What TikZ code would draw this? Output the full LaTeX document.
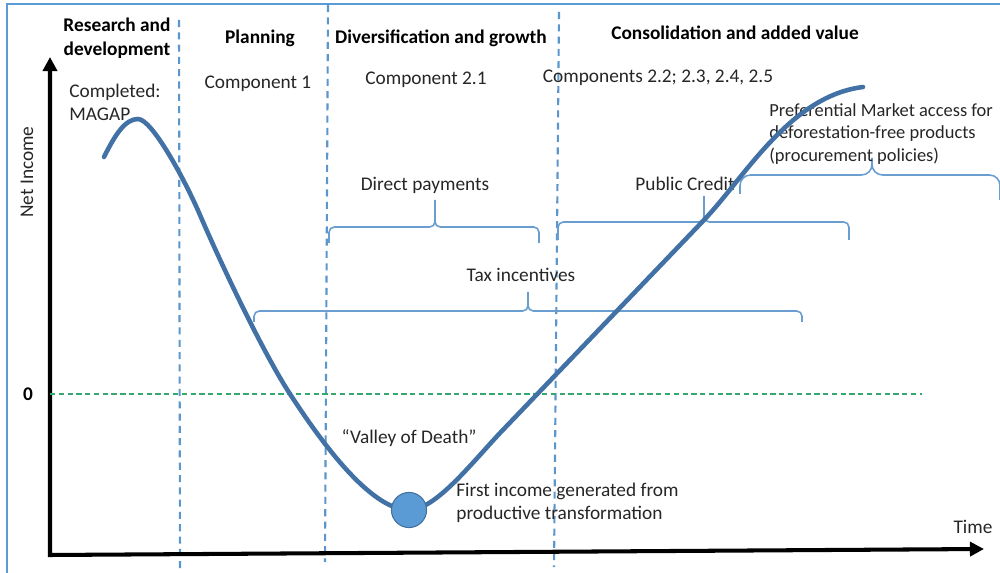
\documentclass[tikz,border=0pt]{standalone}
\usepackage{fontspec}
\setmainfont{Carlito}
\usepackage{xcolor}
\usetikzlibrary{arrows.meta}

\definecolor{curveblue}{RGB}{66,113,166}
\definecolor{dotblue}{RGB}{91,155,213}
\definecolor{dotline}{RGB}{65,113,156}
\definecolor{phaseblue}{RGB}{91,150,205}
\definecolor{braceblue}{RGB}{106,158,208}
\definecolor{zerogreen}{RGB}{52,168,110}
\definecolor{framebl}{RGB}{91,155,213}
\definecolor{inktext}{RGB}{38,38,38}

\begin{document}
\begin{tikzpicture}[x=0.02cm,y=-0.02cm]
      \tikzstyle{head}=[font=\fontsize{11}{13.5}\selectfont\bfseries, align=center,
        inner sep=0pt, text=black];
      \tikzstyle{txt}=[font=\fontsize{11}{13}\selectfont, align=left,
        inner sep=0pt, text=inktext];
      \tikzstyle{phase}=[draw=phaseblue, line width=1.2pt, dash pattern=on 4pt off 3pt];
      \tikzstyle{brace}=[draw=braceblue, line width=0.9pt, rounded corners=3pt];
      \tikzstyle{axis}=[line width=2.3pt, line join=miter,
        {Triangle[length=8pt,width=8pt]}-{Triangle[length=8pt,width=8pt]}];
      \useasboundingbox (0,0) rectangle (1000,573);
      \draw[draw=framebl, line width=1.2pt] (7,573) -- (7,4) -- (1000,4);

      % phases
      \draw[phase] (179,20) -- (180,573);
      \draw[phase] (328,5) -- (325,562);
      \draw[phase] (559,12) -- (554,567);
      \draw (117,38) node[style=head] (rnd) {Research and\\development};
      \draw (260,38) node[style=head] (plan) {Planning};
      \draw (441,38) node[style=head] (divers) {Diversification and growth};
      \draw (735,33) node[style=head] (consol) {Consolidation and added value};

      % components
      \draw (69,102) node[style=txt, anchor=west] (magap) {Completed:\\MAGAP};
      \draw (258,84) node[style=txt] (comp1) {Component 1};
      \draw (426,80) node[style=txt] (comp21) {Component 2.1};
      \draw (658,78) node[style=txt] (comp22) {Components 2.2; 2.3, 2.4, 2.5};

      % axes
      \coordinate (ytop) at (50,57);
      \coordinate (origin) at (50,555);
      \coordinate (xend) at (984,549);
      \draw[style=axis] (ytop) -- (origin) -- (xend);
      \draw (27,172) node[style=txt, rotate=90] (ylab) {Net Income};
      \draw (973,527) node[style=txt] (xlab) {Time};
      \draw (28,394) node[style=head] (zero) {0};
      \draw[zerogreen, line width=0.9pt, dash pattern=on 3pt off 2pt] (origin |- zero) -- (922,394);

      % instruments
      \draw[style=brace] (329,243) -- (329,227) -- (435,227) -- (435,200)
        (435,200) -- (435,227) -- (539,227) -- (539,243);
      \draw (425,185) node[style=txt] (direct) {Direct payments};
      \draw[style=brace] (558,240) -- (558,222) -- (704,222) -- (704,196)
        (704,196) -- (704,222) -- (849,222) -- (849,240);
      \draw (685,184) node[style=txt] (credit) {Public Credit};
      \draw[style=brace] (254,322) -- (254,311) -- (528,311) -- (528,292)
        (528,292) -- (528,311) -- (802,311) -- (802,322);
      \draw (521,275) node[style=txt] (tax) {Tax incentives};
      \draw[style=brace, rounded corners=6pt] (740,194) -- (740,175) -- (872,175) -- (872,158)
        (872,158) -- (872,175) -- (1000,175) -- (1000,200);
      \draw (769,134) node[style=txt, anchor=west, font=\fontsize{10.5}{12.6}\selectfont] (market) {Preferential Market access for\\deforestation-free products\\(procurement policies)};

      % income curve
      \draw[curveblue, line width=2.6pt, line cap=round]
        (104,157) .. controls (115,135) and (125,119) .. (138,119)
        .. controls (152,119) and (185,180) .. (200,215)
        .. controls (215,250) and (260,348) .. (290,394)
        .. controls (320,440) and (370,510) .. (409,510)
        .. controls (435,510) and (470,465) .. (500,433)
        -- (704,220)
        .. controls (745,177) and (790,96) .. (863,87);
      \draw (409,510) node[circle, fill=dotblue, draw=dotline, line width=0.6pt,
        minimum size=20pt, inner sep=0pt] (firstinc) {};
      \draw (409,438) node[style=txt] (valley) {``Valley of Death''};
      \draw (456,503) node[style=txt, anchor=west] (firstlab) {First income generated from\\productive transformation};
    \end{tikzpicture}
\end{document}
